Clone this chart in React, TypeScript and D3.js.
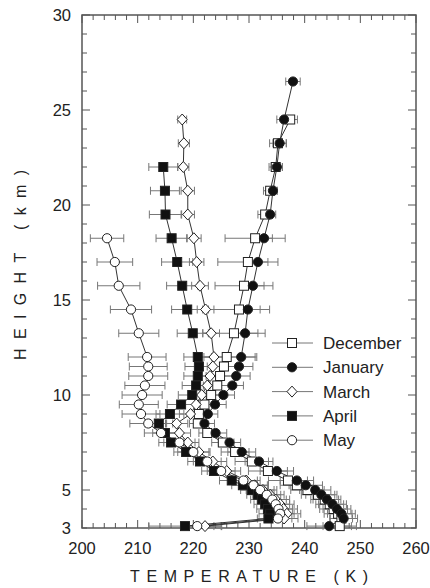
import React from 'react';
import * as d3 from 'd3';

// heights (km) of the sounding levels, shared by every month
const levels = [26.5, 24.5, 23.25, 22, 20.75, 19.5, 18.25, 17, 15.75, 14.5, 13.25, 12, 11.5, 11, 10.5, 10,
  9.5, 9, 8.5, 8, 7.5, 7, 6.5, 6, 5.5, 5.25, 5, 4.75, 4.5, 4.25, 4, 3.75, 3.5, 3.1];

// temperature (K) per level, null = no data
const decT = [null, 237.4, 235.2, 234.8, 233.8, 232.9, 231.1, 229.8, 229.1, 228.2, 227.3, 226.0, 225.5, 224.8, 224.3, 223.2,
  222.0, 221.0, 220.8, 222.5, 225.3, 227.5, 230.5, 233.4, 237.0, 238.6, 240.5, 242.4, 243.6, 244.5, 245.2, 246.0, 246.6, 246.3];
const decE = [null, 1.3, 1.5, 1.2, 1.2, 1.3, 5.4, 5.4, 5.2, 5.5, 5.6, 5.4, 3.0, 2.5, 2.5, 2.0,
  1.5, 1.5, 1.5, 1.5, 2.0, 2.5, 3.0, 3.5, 3.5, 3.0, 3.0, 3.0, 2.5, 2.5, 2.5, 2.5, 2.0, 3.0];

const janT = [237.9, 236.3, 235.5, 235.0, 234.3, 233.8, 232.7, 231.6, 230.7, 229.8, 229.3, 228.6, 228.2, 227.7, 227.0, 225.4,
  223.9, 222.6, 222.0, 224.0, 226.5, 228.7, 231.8, 235.0, 238.6, 240.2, 241.9, 243.0, 244.0, 245.0, 245.8, 246.6, 247.0, 244.4];
const janE = [1.3, 1.3, 1.2, 1.0, 0.8, 1.0, 1.5, 1.8, 2.0, 2.2, 2.3, 2.5, 2.5, 2.5, 2.0, 2.0,
  2.0, 1.8, 1.8, 2.0, 2.0, 2.5, 2.5, 3.0, 3.0, 3.0, 2.8, 2.8, 2.5, 2.5, 2.5, 2.5, 2.5, 4.0];

const marT = [null, 218.0, 218.3, 218.2, 219.0, 219.0, 220.1, 220.6, 221.2, 222.2, 223.2, 223.7, 223.5, 223.0, 222.5, 221.5,
  220.5, 219.5, 217.0, 217.5, 219.0, 221.0, 223.5, 226.0, 229.5, 231.0, 232.5, 233.8, 234.8, 235.6, 236.2, 236.8, 236.3, 222.1];
const marE = [null, 0.8, 1.0, 1.0, 1.2, 1.2, 1.3, 1.3, 1.5, 1.5, 1.5, 1.8, 1.8, 1.8, 1.8, 2.0,
  2.0, 2.0, 2.0, 2.0, 2.0, 2.0, 2.5, 2.5, 2.5, 2.5, 2.5, 2.5, 2.5, 2.5, 2.5, 2.5, 2.5, 3.0];

const aprT = [null, null, null, 214.6, 214.9, 215.0, 216.1, 217.1, 218.0, 218.9, 219.9, 220.8, 221.0, 220.8, 220.5, 219.8,
  217.8, 215.8, 213.8, 214.9, 216.0, 218.7, 221.2, 223.7, 226.9, 228.9, 230.5, 231.6, 232.3, 232.9, 233.4, 233.8, 233.5, 218.5];
const aprE = [null, null, null, 2.6, 2.6, 2.9, 2.8, 2.8, 2.8, 2.8, 2.8, 2.5, 2.5, 2.5, 2.5, 2.5,
  2.5, 2.5, 2.5, 2.2, 2.2, 2.2, 2.2, 2.2, 2.2, 2.0, 2.0, 2.0, 2.0, 2.0, 2.0, 2.0, 2.0, 6.5];

const mayT = [null, null, null, null, null, null, 204.5, 205.9, 206.6, 208.8, 210.2, 211.7, 211.9, 211.9, 211.3, 210.8,
  210.2, 210.6, 211.9, 214.2, 217.5, 220.0, 222.5, 225.0, 229.0, 230.8, 232.0, 233.2, 234.2, 234.8, 235.3, 235.6, 235.2, 220.7];
const mayE = [null, null, null, null, null, null, 3.0, 3.2, 3.8, 3.7, 3.6, 3.4, 3.4, 3.5, 3.6, 3.6,
  3.5, 3.4, 3.3, 3.0, 2.8, 2.8, 2.5, 2.5, 2.5, 2.5, 2.5, 2.5, 2.5, 2.5, 2.5, 2.5, 2.5, 3.0];

const monthNames = ['December', 'January', 'March', 'April', 'May'];
const xTicks = [200, 210, 220, 230, 240, 250, 260];
const yTicks = [3, 5, 10, 15, 20, 25, 30];

const series = [
  { name: monthNames[0], t: decT, e: decE, sym: 'square', fill: '#fff' },
  { name: monthNames[1], t: janT, e: janE, sym: 'circle', fill: '#111' },
  { name: monthNames[2], t: marT, e: marE, sym: 'diamond', fill: '#fff' },
  { name: monthNames[3], t: aprT, e: aprE, sym: 'square', fill: '#111' },
  { name: monthNames[4], t: mayT, e: mayE, sym: 'circle', fill: '#fff' },
];

const W = 430, H = 588;
const left = 82, right = 416, top = 15, bottom = 528;
const font = 'Liberation Sans, Arial, sans-serif';

function Marker({ sym, fill, cx, cy }: { sym: string; fill: string; cx: number; cy: number }) {
  const stroke = '#222';
  if (sym === 'square') return <rect x={cx - 4.5} y={cy - 4.5} width={9} height={9} fill={fill} stroke={stroke} strokeWidth={1} />;
  if (sym === 'diamond') return <path d={`M${cx},${cy - 5.5}L${cx + 5},${cy}L${cx},${cy + 5.5}L${cx - 5},${cy}Z`} fill={fill} stroke={stroke} strokeWidth={1} />;
  return <circle cx={cx} cy={cy} r={4.6} fill={fill} stroke={stroke} strokeWidth={1} />;
}

export default function App() {
  const x = d3.scaleLinear().domain([200, 260]).range([left, right]);
  const y = d3.scaleLinear().domain([3, 30]).range([bottom, top]);

  const minorX = d3.range(200, 261, 2);
  const minorY = d3.range(3, 31, 1);

  const line = d3.line<[number, number | null]>()
    .defined(d => d[1] != null)
    .x(d => x(d[1] as number))
    .y(d => y(d[0]));

  const axisColor = '#555';

  return (
    <svg width={W} height={H} style={{ position: 'absolute', left: 0, top: 0, background: '#fff' }}>
      {/* ticks, inward on all four sides */}
      {minorX.map(v => {
        const len = v % 10 === 0 ? 8 : 5;
        return (
          <g key={'x' + v} stroke={axisColor} strokeWidth={1}>
            <line x1={x(v)} x2={x(v)} y1={bottom} y2={bottom - len} />
            <line x1={x(v)} x2={x(v)} y1={top} y2={top + len} />
          </g>
        );
      })}
      {minorY.map(v => {
        const len = v % 5 === 0 ? 8 : 5;
        return (
          <g key={'y' + v} stroke={axisColor} strokeWidth={1}>
            <line x1={left} x2={left + len} y1={y(v)} y2={y(v)} />
            <line x1={right} x2={right - len} y1={y(v)} y2={y(v)} />
          </g>
        );
      })}
      <rect x={left} y={top} width={right - left} height={bottom - top} fill="none" stroke={axisColor} strokeWidth={1.5} />

      {xTicks.map(v => (
        <text key={'xl' + v} x={x(v)} y={554} textAnchor="middle" fontFamily={font} fontSize={16.5} fill="#222">{v}</text>
      ))}
      {yTicks.map(v => (
        <text key={'yl' + v} x={71} y={y(v) + 6} textAnchor="end" fontFamily={font} fontSize={16.5} fill="#222">{v}</text>
      ))}

      <text x={249} y={582} textAnchor="middle" fontFamily={font} fontSize={16} fill="#222"
        textLength={238} lengthAdjust="spacing">TEMPERATURE (K)</text>
      <text transform="translate(26,265) rotate(-90)" textAnchor="middle" fontFamily={font} fontSize={16} fill="#222"
        textLength={190} lengthAdjust="spacing">HEIGHT (km)</text>

      {/* error bars */}
      {series.map(s => (
        <g key={'e' + s.name} stroke="#777" strokeWidth={1}>
          {levels.map((h, i) => {
            const t = s.t[i], e = s.e[i];
            if (t == null || e == null) return null;
            const yy = y(h);
            return (
              <g key={i}>
                <line x1={x(t - e)} x2={x(t + e)} y1={yy} y2={yy} />
                <line x1={x(t - e)} x2={x(t - e)} y1={yy - 4} y2={yy + 4} />
                <line x1={x(t + e)} x2={x(t + e)} y1={yy - 4} y2={yy + 4} />
              </g>
            );
          })}
        </g>
      ))}

      {/* profiles */}
      {series.map(s => (
        <path key={'l' + s.name} d={line(levels.map((h, i) => [h, s.t[i]] as [number, number | null])) || ''}
          fill="none" stroke="#333" strokeWidth={1} />
      ))}
      {series.map(s => (
        <g key={'m' + s.name}>
          {levels.map((h, i) => s.t[i] == null ? null :
            <Marker key={i} sym={s.sym} fill={s.fill} cx={x(s.t[i] as number)} cy={y(h)} />)}
        </g>
      ))}

      {/* legend */}
      {series.map((s, i) => {
        const ly = 343 + i * 24.3;
        return (
          <g key={'lg' + s.name}>
            <line x1={272} x2={313} y1={ly} y2={ly} stroke="#777" strokeWidth={1} />
            <Marker sym={s.sym} fill={s.fill} cx={292} cy={ly} />
            <text x={323} y={ly + 6} fontFamily={font} fontSize={17} fill="#222">{s.name}</text>
          </g>
        );
      })}
    </svg>
  );
}
